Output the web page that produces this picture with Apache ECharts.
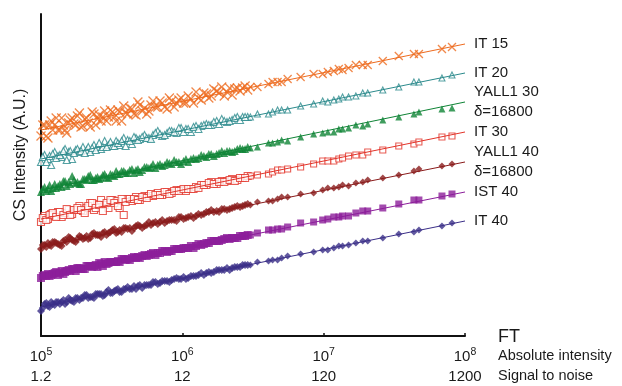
<!DOCTYPE html>
<html><head><meta charset="utf-8">
<script src="https://cdn.jsdelivr.net/npm/echarts@6/dist/echarts.min.js"></script>
<style>html,body{margin:0;padding:0;background:#fff}#c{width:622px;height:386px}</style>
</head><body><div id="c"></div>
<script>
// Absolute intensity (x) shared by all series
const absIntensity = [
  1.00e5,1.06e5,1.12e5,1.18e5,1.25e5,1.32e5,1.40e5,1.48e5,1.57e5,1.66e5,
  1.76e5,1.87e5,1.98e5,2.10e5,2.23e5,2.37e5,2.51e5,2.66e5,2.82e5,3.00e5,
  3.2e5,3.4e5,3.6e5,3.85e5,4.1e5,4.4e5,4.7e5,5.0e5,5.4e5,5.8e5,
  6.2e5,6.7e5,7.2e5,7.8e5,8.4e5,9.1e5,9.8e5,1.06e6,1.15e6,1.25e6,
  1.36e6,1.48e6,1.60e6,1.75e6,1.90e6,2.07e6,2.25e6,2.45e6,2.67e6,2.90e6,
  3.03e6,3.40e6,4.07e6,4.35e6,4.72e6,5.04e6,5.56e6,6.87e6,8.49e6,9.84e6,
  1.07e7,1.18e7,1.28e7,1.36e7,1.50e7,1.69e7,1.89e7,2.05e7,2.62e7,3.40e7,
  4.35e7,4.72e7,6.87e7,8.09e7
];
// additional low-intensity measurements (dense region)
const absIntensityExtra = [
  1.03e5,1.09e5,1.15e5,1.21e5,1.28e5,1.36e5,1.44e5,1.52e5,1.61e5,1.71e5,
  1.81e5,1.92e5,2.04e5,2.16e5,2.30e5,2.44e5,2.58e5,2.74e5,2.91e5,3.10e5,
  3.3e5,3.5e5,3.72e5,3.97e5,4.25e5,4.55e5,4.85e5,5.2e5,5.6e5,6.0e5,
  6.45e5,6.95e5,7.5e5,8.1e5,8.75e5,9.45e5,1.02e6,1.10e6,1.20e6,1.30e6,
  1.42e6,1.54e6,1.67e6,1.82e6,1.98e6,2.16e6,2.35e6,2.56e6,2.78e6
];
// CS intensity (A.U.) per series
const it15 = [204,215,202,219,215,210,222,210,217,222,215,227,214,222,213,226,221,219,229,223,228,219,228,234,226,231,225,235,232,229,239,233,237,231,239,237,242,237,241,248,240,246,244,249,253,248,245,252,252,250,
  253,253,256,258,258,258,261,263,266,266,268,269,271,270,272,275,275,275,279,284,286,286,291,293];
const it15Extra = [215,204,215,210,222,210,215,207,220,216,224,213,221,217,228,215,225,223,219,230,223,230,219,227,232,226,238,229,226,235,233,239,233,242,233,240,237,244,237,242,247,242,251,247,244,252,251,249,254];
const it20 = [178,185,181,175,188,184,183,191,188,181,190,188,193,190,188,195,193,191,199,195,194,199,195,202,200,196,202,201,205,202,205,209,204,207,209,207,212,211,208,214,214,216,215,219,221,218,220,223,223,223,
  223,226,226,228,230,230,230,234,236,239,238,240,241,243,243,244,247,247,250,253,258,258,262,265];
const it20Extra = [183,178,184,186,182,185,189,180,189,187,191,189,187,193,192,190,197,193,193,198,194,197,199,194,199,203,200,203,202,201,207,206,205,209,208,212,208,211,213,211,215,215,218,216,219,219,222,220,223];
const yall30 = [148,153,151,149,156,154,153,159,158,164,157,156,161,160,165,160,163,162,166,162,165,169,166,169,167,171,170,168,173,172,176,175,174,178,176,178,176,181,181,181,185,183,186,186,189,189,188,191,191,193,
  192,193,197,197,198,200,199,203,206,207,208,208,211,211,212,215,214,216,220,223,226,228,231,232];
const yall30Extra = [151,149,155,152,152,156,159,154,156,160,158,156,161,164,160,162,161,165,163,166,164,166,169,167,170,167,171,170,173,173,172,176,175,177,180,178,179,178,182,182,184,186,184,187,187,189,189,192,191];
const it30 = [118,124,121,126,124,128,123,127,130,126,130,134,129,132,137,130,136,140,135,132,140,139,132,125,141,139,143,140,144,144,144,147,145,148,147,150,150,149,151,153,155,155,158,156,159,159,161,160,162,164,
  164,165,166,168,170,170,171,173,176,179,179,179,181,182,184,185,185,188,190,194,196,198,203,204];
const it30Extra = [122,120,125,127,123,128,125,131,125,130,132,130,127,134,137,132,135,129,137,140,137,134,141,138,141,141,140,143,142,146,145,145,148,146,149,149,151,151,151,152,155,157,156,158,158,160,159,162,162];
const yall40 = [91,95,97,94,98,96,94,100,103,100,98,104,101,104,102,107,105,103,108,107,110,107,110,112,111,109,114,114,114,118,117,116,120,119,120,119,123,122,124,124,125,128,130,129,131,130,132,134,134,136,
  135,138,139,139,141,143,143,146,147,150,152,152,153,155,154,157,158,160,162,165,169,171,174,176];
const yall40Extra = [95,93,95,98,97,95,99,98,102,99,101,103,102,101,106,105,105,107,105,108,111,108,108,112,112,112,115,112,115,115,118,118,117,120,120,123,121,123,122,126,126,128,128,128,131,131,133,133,135];
const ist40 = [62,65,66,65,67,65,69,68,70,71,69,72,71,74,74,74,73,76,78,77,78,78,78,81,81,82,82,82,85,85,87,87,89,88,89,91,91,92,94,94,95,97,99,99,100,102,102,102,104,105,
  105,107,110,110,111,111,113,117,118,120,121,123,123,124,124,127,129,129,132,136,140,140,144,146];
const ist40Extra = [64,64,64,66,68,67,66,69,69,71,72,71,71,74,73,75,77,74,76,78,78,79,81,80,80,83,83,84,84,86,85,87,89,89,91,91,92,92,92,96,96,97,99,99,101,101,102,104,104];
const it40 = [29,36,34,38,35,38,38,36,42,39,42,40,42,45,43,42,46,46,45,50,47,50,48,51,53,51,51,55,55,55,58,56,59,59,60,62,61,61,64,64,67,67,67,70,70,72,72,73,75,75,
  75,78,79,80,80,82,84,86,88,90,90,92,94,94,95,97,99,99,102,106,108,110,114,117];
const it40Extra = [32,37,33,36,38,36,40,38,40,38,42,42,45,42,43,46,46,44,48,47,49,51,48,51,51,54,54,52,55,55,58,57,59,58,61,61,63,62,64,65,65,68,68,70,70,70,73,73,75];

const seriesNames = ['IT 15','IT 20','YALL1 30\nδ=16800','IT 30','YALL1 40\nδ=16800','IST 40','IT 40'];
const seriesValues = [it15, it20, yall30, it30, yall40, ist40, it40];
const seriesExtra = [it15Extra, it20Extra, yall30Extra, it30Extra, yall40Extra, ist40Extra, it40Extra];
// fitted trend line values at x = 1e5 and x = 1e8
const fitStart = [210,181,150,121,93,63,33];
const fitEnd = [296,267,238,208,178,148,119];
const fitRange = [1e5, 1e8];
// tick labels
const exponentLabels = ['5','6','7','8'];
const snrLabels = ['1.2','12','120','1200'];

const colors = ['#EE6B1F','#2B8A8C','#0F8436','#E2342A','#8A1B1B','#8C1E9A','#3B2F88'];
const FONT = '"Liberation Sans", Arial, Helvetica, sans-serif';
const xMark = 'path://M0,0L10,10M10,0L0,10';
const markerStyles = [
  {symbol: xMark, size: [9,8], hollow: false, stroke: true},
  {symbol: 'triangle', size: [7,6], hollow: true},
  {symbol: 'triangle', size: [8,7], hollow: false},
  {symbol: 'rect', size: [7,6], hollow: true},
  {symbol: 'diamond', size: [8,7], hollow: false},
  {symbol: 'rect', size: [8,7], hollow: false},
  {symbol: 'diamond', size: [8,7], hollow: false}
];

const series = [];
seriesValues.forEach((vals, i) => {
  const ms = markerStyles[i];
  const pts = vals.map((v, k) => [absIntensity[k], v])
    .concat(seriesExtra[i].map((v, k) => [absIntensityExtra[k], v]));
  series.push({
    type: 'scatter',
    name: seriesNames[i],
    data: pts,
    symbol: ms.symbol,
    symbolSize: (val) => val[0] < 3e6 ? ms.size[0] : ms.size[1],
    itemStyle: ms.stroke ? {color: colors[i], borderColor: colors[i], borderWidth: 1.3}
      : ms.hollow ? {color: '#ffffff', borderColor: colors[i], borderWidth: 1.1}
      : {color: colors[i], borderWidth: 0},
    silent: true,
    z: 2
  });
  series.push({
    type: 'line',
    name: seriesNames[i] + ' fit',
    data: [[fitRange[0], fitStart[i]], [fitRange[1], fitEnd[i]]],
    symbol: 'none',
    lineStyle: {color: colors[i], width: 1},
    endLabel: {show: true, formatter: () => seriesNames[i], color: '#1a1a1a', fontSize: 15, fontFamily: FONT, lineHeight: 20, distance: 9},
    silent: true,
    z: 3
  });
});

const chart = echarts.init(document.getElementById('c'), null, {renderer: 'canvas'});
chart.setOption({
  animation: false,
  backgroundColor: '#ffffff',
  grid: {left: 41, right: 157, top: 14, bottom: 50, containLabel: false},
  xAxis: {
    type: 'log', logBase: 10, min: 1e5, max: 1e8,
    axisLine: {lineStyle: {color: '#111', width: 2}},
    axisTick: {show: true, inside: true, length: 3, lineStyle: {color: '#111', width: 1.5}},
    minorTick: {show: false},
    splitLine: {show: false},
    axisLabel: {
      margin: 11,
      fontFamily: FONT,
      color: '#1a1a1a',
      formatter: (v) => {
        const e = Math.round(Math.log10(v));
        const i = exponentLabels.indexOf(String(e));
        return '{b|10}{s|' + exponentLabels[i] + '}\n{b|' + snrLabels[i] + '}';
      },
      rich: {
        b: {fontSize: 15, lineHeight: 20, fontFamily: FONT, color: '#1a1a1a'},
        s: {fontSize: 10.5, lineHeight: 12, verticalAlign: 'top', fontFamily: FONT, color: '#1a1a1a'}
      }
    }
  },
  yAxis: {
    type: 'value', min: 4, max: 326,
    axisLine: {show: true, lineStyle: {color: '#111', width: 2}},
    axisTick: {show: false},
    axisLabel: {show: false},
    splitLine: {show: false}
  },
  graphic: [
    {type: 'text', x: 21, y: 155, rotation: Math.PI / 2,
      style: {text: 'CS Intensity (A.U.)', fontSize: 16, fontFamily: FONT, fill: '#1a1a1a', align: 'center', verticalAlign: 'middle'}},
    {type: 'text', x: 498, y: 337,
      style: {text: 'FT', fontSize: 18, fontFamily: FONT, fill: '#1a1a1a', align: 'left', verticalAlign: 'middle'}},
    {type: 'text', x: 498, y: 356,
      style: {text: 'Absolute intensity', fontSize: 14.5, fontFamily: FONT, fill: '#1a1a1a', align: 'left', verticalAlign: 'middle'}},
    {type: 'text', x: 498, y: 376,
      style: {text: 'Signal to noise', fontSize: 14.5, fontFamily: FONT, fill: '#1a1a1a', align: 'left', verticalAlign: 'middle'}}
  ],
  series: series
});
</script>
</body></html>
